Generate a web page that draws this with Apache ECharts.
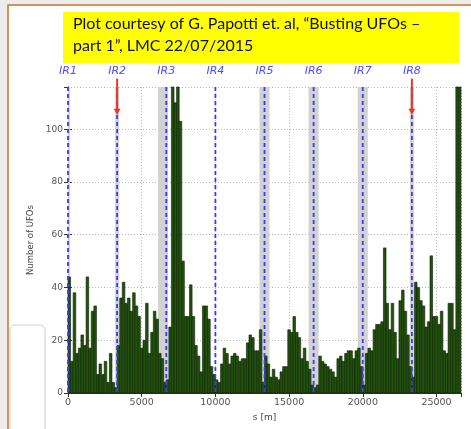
<!DOCTYPE html>
<html>
<head>
<meta charset="utf-8">
<script src="https://cdn.jsdelivr.net/npm/echarts@6/dist/echarts.min.js"></script>
<style>
html,body{margin:0;padding:0;background:#fff;}
#c{width:471px;height:429px;}
</style>
</head>
<body>
<div id="c"></div>
<script>
// ---- data ----
const ringLength = 26659; // metres
const ufoCounts = [
  // IR1 -> IR2
  44,12,38,15,17,22,18,44,17,31,33,7,11,7,12,4,15,4,2,
  // IR2 -> IR3
  18,36,42,34,36,31,38,33,29,17,20,34,15,23,31,28,15,13,4,
  // IR3 -> IR4
  5,25,150,110,145,103,50,29,29,41,29,18,14,8,33,33,28,10,7,
  // IR4 -> IR5
  5,4,11,17,15,11,14,15,14,12,13,13,19,22,21,16,16,24,4,
  // IR5 -> IR6
  14,11,6,9,6,5,8,10,10,24,23,29,23,21,13,17,12,9,3,
  // IR6 -> IR7
  2,3,14,12,11,10,9,8,6,13,14,12,15,16,16,13,16,17,10,
  // IR7 -> IR8
  3,15,17,16,24,26,26,27,55,34,24,34,23,13,35,39,31,22,10,
  // IR8 -> end
  6,42,40,35,33,25,27,52,29,29,26,31,16,15,34,34,24,150,150
];
const irNames = ['IR1','IR2','IR3','IR4','IR5','IR6','IR7','IR8'];
const irPositions = [0, 3332.4, 6664.8, 9997.1, 13329.5, 16661.9, 19994.3, 23326.6];
const arrowIRs = ['IR2','IR8'];
const bandStart = [0, 3200, 6110, 12990, 16320, 19655, 23195];
const bandEnd   = [130, 3465, 6790, 13670, 17000, 20335, 23460];
const xTicks = [0, 5000, 10000, 15000, 20000, 25000];
const yTicks = [0, 20, 40, 60, 80, 100];
const yMax = 116;
const titleLines = ['Plot courtesy of G. Papotti et. al, \u201cBusting UFOs \u2013', 'part 1\u201d, LMC 22/07/2015'];

// ---- build ----
const binW = ringLength / ufoCounts.length;
const barData = ufoCounts.map((v, i) => [i * binW, (i + 1) * binW, v]);
const bandData = bandStart.map((s, i) => [s, bandEnd[i]]);
const irData = irPositions.map((p, i) => [p, irNames[i]]);

const chart = echarts.init(document.getElementById('c'), null, {renderer: 'canvas'});

const axisCol = '#333';
const labelCol = '#555';
const common = {
  min: 0,
  axisLine: {show: true, lineStyle: {color: axisCol, width: 1}},
  axisTick: {show: true, inside: true, length: 4, lineStyle: {color: axisCol}},
};

chart.setOption({
  animation: false,
  backgroundColor: '#ededed',
  grid: {left: 68, right: 10, top: 87, bottom: 36, show: true, backgroundColor: '#fff', borderWidth: 0},
  xAxis: [
    Object.assign({}, common, {
      type: 'value', position: 'bottom', max: ringLength, interval: 5000,
      axisLabel: {show: true, color: labelCol, fontSize: 9.5, fontFamily: 'DejaVu Sans', margin: 5, showMaxLabel: false,
        formatter: v => xTicks.includes(v) ? String(v) : ''},
      splitLine: {show: true, lineStyle: {color: '#b8b8b8', type: [1, 2], width: 1}},
      name: 's [m]', nameLocation: 'middle', nameGap: 20,
      nameTextStyle: {color: '#444', fontSize: 9, fontFamily: 'DejaVu Sans'}
    }),
    Object.assign({}, common, {
      type: 'value', position: 'top', max: ringLength, interval: 5000,
      axisLabel: {show: false}, splitLine: {show: false}
    })
  ],
  yAxis: [
    Object.assign({}, common, {
      type: 'value', position: 'left', max: yMax, interval: 20,
      axisLabel: {show: true, color: labelCol, fontSize: 9, fontFamily: 'DejaVu Sans', margin: 5, showMaxLabel: false,
        formatter: v => yTicks.includes(v) ? String(v) : ''},
      splitLine: {show: true, lineStyle: {color: '#b8b8b8', type: [1, 2], width: 1}},
      name: 'Number of UFOs', nameLocation: 'middle', nameGap: 31,
      nameTextStyle: {color: '#444', fontSize: 8.5, fontFamily: 'DejaVu Sans'}
    }),
    Object.assign({}, common, {
      type: 'value', position: 'right', max: yMax, interval: 20,
      axisLabel: {show: false}, splitLine: {show: false}
    })
  ],
  graphic: [
    {type: 'rect', z: -10, shape: {x: 8, y: 5, width: 480, height: 440},
     style: {fill: '#ffffff', stroke: '#c8742a', lineWidth: 1.5}},
    {type: 'rect', z: -9, shape: {x: 10, y: 325, width: 35, height: 110, r: 5},
     style: {fill: '#ffffff', stroke: '#cfcfcf', lineWidth: 1}},
    {type: 'rect', shape: {x: 63, y: 12, width: 396, height: 51}, style: {fill: '#ffff00'}},
    {type: 'text', left: 73, top: 16, style: {text: titleLines[0], fill: '#111', font: '16px Lato'}},
    {type: 'text', left: 73, top: 38, style: {text: titleLines[1], fill: '#111', font: '16px Lato'}}
  ],
  series: [
    {
      type: 'custom', name: 'bands', z: 1, silent: true,
      data: bandData, encode: {x: [0, 1]},
      renderItem(params, api) {
        const a = api.coord([api.value(0), yMax]);
        const b = api.coord([api.value(1), 0]);
        const shape = echarts.graphic.clipRectByRect(
          {x: a[0], y: a[1], width: b[0] - a[0], height: b[1] - a[1]}, params.coordSys);
        return shape && {type: 'rect', shape, style: {fill: '#d2d2d2'}};
      }
    },
    {
      type: 'custom', name: 'UFOs', z: 2,
      data: barData, encode: {x: [0, 1], y: 2},
      renderItem(params, api) {
        const p0 = api.coord([api.value(0), 0]);
        const p1 = api.coord([api.value(1), api.value(2)]);
        const shape = echarts.graphic.clipRectByRect(
          {x: p0[0], y: p1[1], width: p1[0] - p0[0], height: p0[1] - p1[1]}, params.coordSys);
        return shape && {type: 'rect', shape, style: {fill: '#23520d', stroke: '#0a1e04', lineWidth: 0.6}};
      }
    },
    {
      type: 'custom', name: 'IR', z: 5, silent: true, clip: false,
      data: irData, encode: {x: 0},
      renderItem(params, api) {
        const pos = api.value(0);
        const name = irNames[params.dataIndex];
        const top = api.coord([pos, yMax]);
        const bot = api.coord([pos, 0]);
        const children = [
          {type: 'line', shape: {x1: top[0], y1: top[1], x2: bot[0], y2: bot[1]},
           style: {stroke: '#3a3aff', lineWidth: 1.8, lineDash: [4, 3]}},
          {type: 'text', x: top[0], y: top[1] - 16,
           style: {text: name, fill: '#4d4dff', font: 'italic 11px "DejaVu Sans"', align: 'center', verticalAlign: 'middle'}}
        ];
        if (arrowIRs.includes(name)) {
          const a0 = api.coord([pos, 119.2]);
          const a1 = api.coord([pos, 105.5]);
          children.push({type: 'line', shape: {x1: a0[0], y1: a0[1], x2: a1[0], y2: a1[1] - 4},
            style: {stroke: '#e83a2a', lineWidth: 2}});
          children.push({type: 'polygon', shape: {points: [[a1[0] - 3.5, a1[1] - 6], [a1[0] + 3.5, a1[1] - 6], [a1[0], a1[1]]]},
            style: {fill: '#e83a2a'}});
        }
        return {type: 'group', children};
      }
    }
  ]
});
</script>
</body>
</html>
